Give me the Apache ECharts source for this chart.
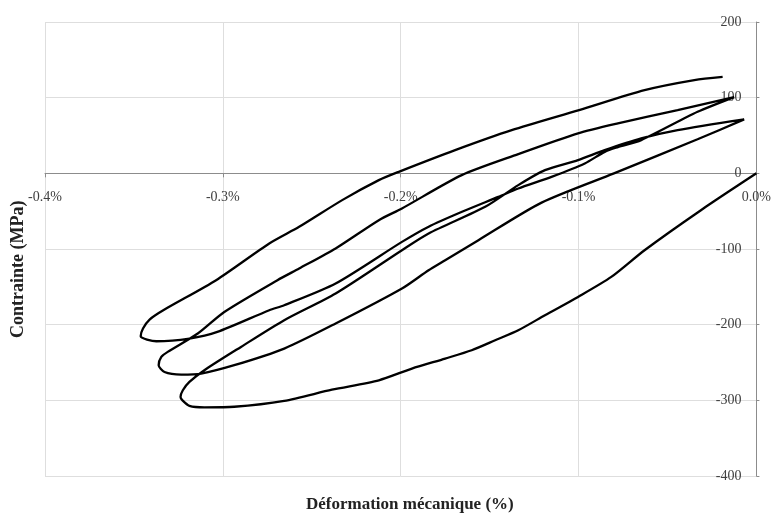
<!DOCTYPE html>
<html>
<head>
<meta charset="utf-8">
<script src="https://cdn.jsdelivr.net/npm/echarts@6/dist/echarts.min.js"></script>
<style>
html,body{margin:0;padding:0;background:#fff;}
#chart{width:774px;height:513px;}
</style>
</head>
<body>
<div id="chart"></div>
<script>
// Axis ticks
const xTicks = [-0.4, -0.3, -0.2, -0.1, 0.0];
const yTicks = [-400, -300, -200, -100, 0, 100, 200];

// Initial compressive loading (strain %, stress MPa)
const loadStrain = [0, -0.0312, -0.0629, -0.0816, -0.1003, -0.1189, -0.1339, -0.1469, -0.1601, -0.1750, -0.1937, -0.2123, -0.2387, -0.2655, -0.2936, -0.3104, -0.3188, -0.3227, -0.3238];
const loadStress = [0, -48.7, -101.6, -136.9, -163.3, -187.5, -207.4, -220.6, -233.8, -244.8, -258.0, -273.5, -286.0, -300.8, -308.5, -309.2, -307.2, -300.0, -295.6];

// Cycle 1 reversal (to first tension peak)
const up1Strain = [-0.3225, -0.3188, -0.3104, -0.2898, -0.2655, -0.2366, -0.1993, -0.1843, -0.1525, -0.1339, -0.1189, -0.1003, -0.0853, -0.0648, -0.0443, -0.0069];
const up1Stress = [-286.7, -275.7, -260.2, -229.4, -194.1, -158.8, -101.6, -79.5, -44.3, -15.6, 4.2, 17.5, 30.7, 46.2, 57.1, 71.3];

// Cycle 2 compression
const down2Strain = [-0.0331, -0.0801, -0.1208, -0.1563, -0.1750, -0.1843, -0.1993, -0.2366, -0.2655, -0.2936, -0.3122, -0.3234, -0.3328, -0.3361];
const down2Stress = [45.0, 0, -38.7, -88.3, -114.8, -128.0, -152.2, -198.5, -231.6, -253.6, -264.6, -265.9, -262.5, -253.6];

// Cycle 2 reversal
const up2Strain = [-0.3346, -0.3310, -0.3141, -0.2992, -0.2693, -0.2571, -0.2366, -0.2123, -0.1993, -0.1657, -0.1339, -0.1003, -0.0779, -0.0443, -0.0125];
const up2Stress = [-242.7, -236.0, -211.7, -183.2, -141.2, -125.8, -99.3, -61.9, -46.4, -2.4, 25.4, 52.8, 66.0, 83.6, 100.8];

// Cycle 3 compression
const down3Strain = [-0.0331, -0.0648, -0.0779, -0.0853, -0.0965, -0.1152, -0.1339, -0.1451, -0.1652, -0.1843, -0.1993, -0.2366, -0.2655, -0.2739, -0.3031, -0.3188, -0.3374, -0.3462];
const down3Stress = [81.3, 43.9, 34.6, 28.4, 13.1, -4.6, -20.0, -31.1, -50.5, -70.5, -90.6, -145.6, -174.3, -180.9, -209.6, -218.3, -221.9, -215.3];

// Cycle 3 reversal (final)
const up3Strain = [-0.3449, -0.3412, -0.3328, -0.3038, -0.2739, -0.2571, -0.2329, -0.2123, -0.2011, -0.1694, -0.1376, -0.0997, -0.0629, -0.0349, -0.0190];
const up3Stress = [-205.1, -193.2, -180.0, -141.2, -92.7, -70.7, -35.4, -9.0, 2.0, 30.7, 57.1, 83.6, 110.0, 123.3, 127.6];

function pairs(xs, ys) { return xs.map((x, i) => [x, ys[i]]); }
const curve = [].concat(
  pairs(loadStrain, loadStress),
  pairs(up1Strain, up1Stress),
  pairs(down2Strain, down2Stress),
  pairs(up2Strain, up2Stress),
  pairs(down3Strain, down3Stress),
  pairs(up3Strain, up3Stress)
);

const gridTop = 22, gridBottom = 37;
const plotH = 513 - gridTop - gridBottom;
const yMin = yTicks[0], yMax = yTicks[yTicks.length - 1];
// place x axis on the zero stress line (offset upward from the bottom edge)
const zeroOffset = -plotH * (0 - yMin) / (yMax - yMin);

const chart = echarts.init(document.getElementById('chart'), null, {renderer: 'canvas'});
const labelFont = {fontFamily: 'Liberation Serif', fontSize: 14, color: '#404040'};
chart.setOption({
  animation: false,
  backgroundColor: '#ffffff',
  grid: {left: 45, right: 15, top: gridTop, bottom: gridBottom},
  xAxis: {
    type: 'value', position: 'bottom', offset: zeroOffset,
    min: xTicks[0], max: xTicks[xTicks.length - 1], interval: 0.1,
    axisLine: {onZero: false, lineStyle: {color: '#8c8c8c', width: 1}},
    axisTick: {show: true, inside: false, length: 4, lineStyle: {color: '#8c8c8c'}},
    axisLabel: Object.assign({margin: 17, formatter: v => v.toFixed(1) + '%'}, labelFont),
    splitLine: {show: true, lineStyle: {color: '#dedede', width: 1}}
  },
  yAxis: {
    type: 'value', position: 'right',
    min: yMin, max: yMax, interval: 100,
    axisLine: {show: true, onZero: false, lineStyle: {color: '#8c8c8c', width: 1}},
    axisTick: {show: true, inside: false, length: 3, lineStyle: {color: '#8c8c8c'}},
    axisLabel: Object.assign({inside: true, margin: 15, formatter: v => String(v)}, labelFont),
    splitLine: {show: true, lineStyle: {color: '#dedede', width: 1}}
  },
  graphic: [
    {type: 'text', left: 306, top: 496,
     style: {text: 'Déformation mécanique (%)', font: 'bold 17px "Liberation Serif"', fill: '#222'}},
    {type: 'text', x: 9, y: 338, rotation: Math.PI / 2,
     style: {text: 'Contrainte (MPa)', font: 'bold 18px "Liberation Serif"', fill: '#222', verticalAlign: 'top'}}
  ],
  series: [{
    type: 'line',
    data: curve,
    showSymbol: false,
    smooth: 0.25,
    clip: false,
    lineStyle: {color: '#000', width: 2.3}
  }]
});
</script>
</body>
</html>
